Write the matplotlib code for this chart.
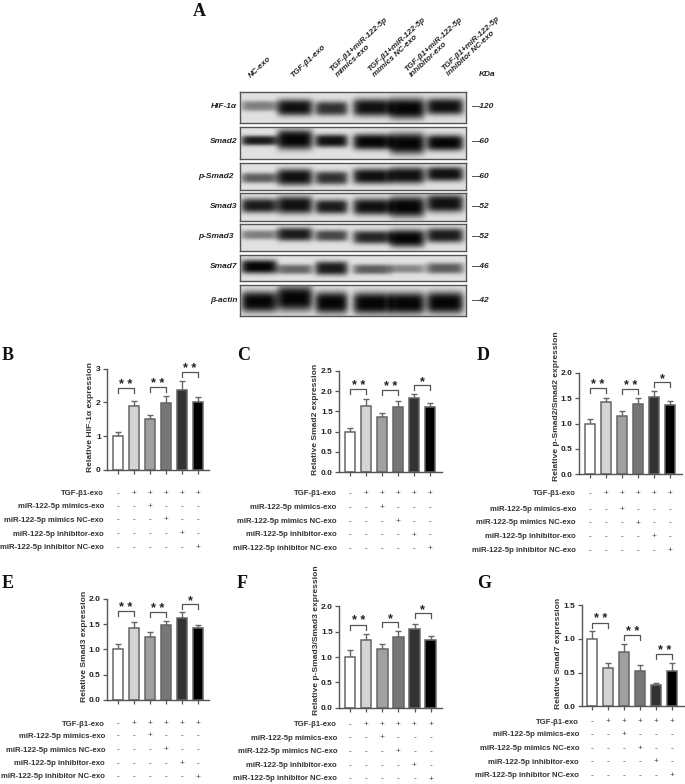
import numpy as np
import matplotlib
matplotlib.use('Agg')
import matplotlib.pyplot as plt
from matplotlib import transforms

plt.rcParams['font.family'] = ['Liberation Sans', 'DejaVu Sans']

W, H = 685, 784

# --- western blot: band centre (fraction of box), darkness, half thickness (px)
blot_rows = ['HIF-1α', 'Smad2', 'p-Smad2', 'Smad3', 'p-Smad3', 'Smad7', 'β-actin']
blot_kda = ['120', '60', '60', '52', '52', '46', '42']
blot_cols = ['NC-exo', 'TGF-β1-exo', 'TGF-β1+miR-122-5p\nmimics-exo',
             'TGF-β1+miR-122-5p\nmimics NC-exo', 'TGF-β1+miR-122-5p\ninhibitor-exo',
             'TGF-β1+miR-122-5p\ninhibitor NC-exo']
band_pos = [[.45, .50, .53, .50, .53, .47],
            [.44, .41, .45, .48, .53, .51],
            [.57, .54, .57, .51, .48, .43],
            [.45, .43, .49, .49, .49, .37],
            [.40, .38, .43, .49, .53, .42],
            [.45, .55, .51, .55, .53, .51],
            [.54, .43, .57, .59, .59, .57]]
band_dark = [[.45, .95, .80, .95, 1.0, .95],
             [.90, 1.0, .95, 1.0, 1.0, 1.0],
             [.60, .95, .80, .95, .95, .95],
             [.90, .95, .90, .95, 1.0, .95],
             [.45, .90, .70, .85, 1.0, .90],
             [1.0, .55, .90, .60, .40, .60],
             [1.0, 1.0, 1.0, 1.0, 1.0, 1.0]]
band_thick = [[5.0, 8.0, 7.0, 8.5, 10.0, 8.0],
              [5.0, 10.0, 6.5, 8.0, 10.5, 8.0],
              [5.0, 8.0, 6.5, 7.5, 8.0, 7.0],
              [7.0, 8.5, 7.0, 8.0, 10.0, 8.5],
              [4.5, 6.5, 5.5, 6.5, 8.5, 7.0],
              [7.0, 5.0, 7.0, 5.0, 4.5, 5.5],
              [10.5, 12.5, 11.0, 11.0, 11.0, 11.0]]
lane_x = [.085, .243, .405, .585, .74, .907]
lane_w = [.08, .08, .073, .086, .078, .083]

# --- bar panels
groups = ['NC', 'TGF', 'mimics', 'mimics NC', 'inhibitor', 'inhibitor NC']
bar_colors = ['white', '#d4d4d4', '#a0a0a0', '#777777', '#333333', '#000000']
row_labels = ['TGF-β1-exo', 'miR-122-5p mimics-exo', 'miR-122-5p mimics NC-exo',
              'miR-122-5p inhibitor-exo', 'miR-122-5p inhibitor NC-exo']
signs = [['-', '+', '+', '+', '+', '+'],
         ['-', '-', '+', '-', '-', '-'],
         ['-', '-', '-', '+', '-', '-'],
         ['-', '-', '-', '-', '+', '-'],
         ['-', '-', '-', '-', '-', '+']]

hif_vals = [1.0, 1.9, 1.5, 1.97, 2.37, 2.0]
hif_tops = [1.125, 2.05, 1.63, 2.18, 2.63, 2.17]
smad2_vals = [1.0, 1.62, 1.36, 1.6, 1.82, 1.6]
smad2_tops = [1.08, 1.795, 1.45, 1.746, 1.92, 1.70]
psmad2_vals = [1.0, 1.42, 1.15, 1.39, 1.53, 1.37]
psmad2_tops = [1.08, 1.51, 1.24, 1.51, 1.63, 1.44]
smad3_vals = [1.0, 1.43, 1.25, 1.48, 1.61, 1.43]
smad3_tops = [1.11, 1.54, 1.35, 1.55, 1.73, 1.49]
psmad3_vals = [1.0, 1.33, 1.16, 1.39, 1.56, 1.34]
psmad3_tops = [1.13, 1.45, 1.25, 1.52, 1.66, 1.41]
smad7_vals = [1.0, .57, .81, .53, .31, .53]
smad7_tops = [1.115, .645, .92, .605, .34, .636]

panels = [
    dict(letter='B', ylabel='Relative HIF-1α expression', vals=hif_vals, tops=hif_tops,
         ymax=3, ticks=[0, 1, 2, 3], fmt='%d', brk=[2.42, 2.46, 2.91], stars=['**', '**', '**'],
         box=(107.3, 368.7, 209, 470), c0=118, sp=16, lab=(91, 471.7), letter_xy=(1.5, 355.5),
         right=104, rows=[493.3, 506.7, 520, 534, 547.3]),
    dict(letter='C', ylabel='Relative Smad2 expression', vals=smad2_vals, tops=smad2_tops,
         ymax=2.5, ticks=[0, .5, 1, 1.5, 2, 2.5], fmt='%.1f', brk=[2.04, 2.02, 2.15], stars=['**', '**', '*'],
         box=(339.3, 370.7, 442, 472.3), c0=350.3, sp=16, lab=(315.7, 474.7), letter_xy=(237, 355.5),
         right=336.7, rows=[494, 507.7, 521.3, 535, 548.7]),
    dict(letter='D', ylabel='Relative p-Smad2/Smad2 expression', vals=psmad2_vals, tops=psmad2_tops,
         ymax=2, ticks=[0, .5, 1, 1.5, 2], fmt='%.1f', brk=[1.69, 1.67, 1.81], stars=['**', '**', '*'],
         box=(579, 372.7, 681.7, 474.3), c0=590, sp=16.05, lab=(556, 480.7), letter_xy=(477, 355.5),
         right=576, rows=[493.7, 509.7, 523, 536.7, 550.3]),
    dict(letter='E', ylabel='Relative Smad3 expression', vals=smad3_vals, tops=smad3_tops,
         ymax=2, ticks=[0, .5, 1, 1.5, 2], fmt='%.1f', brk=[1.75, 1.73, 1.89], stars=['**', '**', '*'],
         box=(106.7, 598.7, 209, 700), c0=118, sp=16, lab=(84, 702.3), letter_xy=(1.5, 583),
         right=105, rows=[724, 736, 750, 763.7, 777]),
    dict(letter='F', ylabel='Relative p-Smad3/Smad3 expression', vals=psmad3_vals, tops=psmad3_tops,
         ymax=2, ticks=[0, .5, 1, 1.5, 2], fmt='%.1f', brk=[1.64, 1.69, 1.86], stars=['**', '*', '*'],
         box=(339.3, 606.3, 442, 707.7), c0=350.3, sp=16.05, lab=(316.7, 715), letter_xy=(237, 583),
         right=337, rows=[724.7, 738, 751.7, 765.3, 779]),
    dict(letter='G', ylabel='Relative Smad7 expression', vals=smad7_vals, tops=smad7_tops,
         ymax=1.5, ticks=[0, .5, 1, 1.5], fmt='%.1f', brk=[1.24, 1.05, .77], stars=['**', '**', '**'],
         box=(581.7, 605, 683.7, 706.3), c0=592.3, sp=16, lab=(558, 709.3), letter_xy=(477, 583),
         right=579, rows=[722, 734.7, 748.3, 762, 775.3]),
]

# pixel layout of the blot
blot_boxes = [(92.3, 122.7), (126.7, 159.3), (162.7, 190), (193.3, 220.7),
              (224.3, 250.7), (255, 281), (285, 316)]
row_label_right = [237.3, 237.3, 233.3, 237.3, 233.3, 237.3, 237.3]
row_label_y = [106.7, 141.7, 176, 206, 236.7, 267, 300]
col_label_xy = [(250, 76.7), (291.7, 76.7), (334, 72.7), (371.5, 72.7), (408.5, 72.7), (445.7, 72.4)]

fig = plt.figure(figsize=(W / 100, H / 100), dpi=100, facecolor='white')


def px_axes(left, top, right, bottom):
    return fig.add_axes([left / W, 1 - bottom / H, (right - left) / W, (bottom - top) / H])


def fig_text(x, y, s, **kw):
    fig.text(x / W, 1 - y / H, s, **kw)


def draw_blot(i):
    top, bottom = blot_boxes[i]
    ax = px_axes(240, top, 466, bottom)
    nx, ny = 226, int(round(bottom - top))
    xx, yy = np.meshgrid((np.arange(nx) + .5) / nx, np.arange(ny) + .5)
    dark = np.zeros((ny, nx))
    for j in range(6):
        cy = band_pos[i][j] * ny
        dx = (xx - lane_x[j]) / lane_w[j]
        dy = (yy - cy) / band_thick[i][j]
        dark += band_dark[i][j] * np.exp(-dx ** 6 - np.abs(dy) ** 3)
    img = 0.88 - 0.86 * np.clip(dark, 0, 1)
    ax.imshow(img, cmap='gray', vmin=0, vmax=1, aspect='auto', interpolation='bilinear')
    ax.set_xticks([])
    ax.set_yticks([])
    for s in ax.spines.values():
        s.set_color('#555555')
        s.set_linewidth(1.0)
    fig_text(row_label_right[i], row_label_y[i], blot_rows[i], ha='right', va='center',
             fontsize=6, style='italic', weight='bold', color='#222222')
    fig_text(471.5, row_label_y[i], '—' + blot_kda[i], ha='left', va='center',
             fontsize=6, style='italic', weight='bold', color='#222222')


def draw_panel(p):
    ax = px_axes(*p['box'])
    left, top, right, bottom = p['box']
    x = np.arange(6)
    vals = np.array(p['vals'])
    err = np.array(p['tops']) - vals
    ax.bar(x, vals, width=0.64, color=bar_colors, edgecolor='#666666', linewidth=1.1, zorder=2)
    ax.errorbar(x, vals, yerr=[np.zeros(6), err], fmt='none', ecolor='#666666',
                elinewidth=1.0, capsize=2.1, capthick=1.0, zorder=1)
    ax.set_xlim((left - p['c0']) / p['sp'], (right - p['c0']) / p['sp'])
    ax.set_ylim(0, p['ymax'])
    ax.set_xticks(x)
    ax.set_xticklabels([])
    ax.set_yticks(p['ticks'])
    ax.set_yticklabels([p['fmt'] % t for t in p['ticks']], fontsize=6, weight='bold', color='#222222')
    ax.tick_params(axis='both', length=3.2, width=0.9, color='#555555', pad=1.5)
    for s in ['top', 'right']:
        ax.spines[s].set_visible(False)
    for s in ['left', 'bottom']:
        ax.spines[s].set_color('#555555')
        ax.spines[s].set_linewidth(1.0)
    ax.patch.set_alpha(0)

    # significance brackets, drop of 5 px converted to data units
    drop = 5 * p['ymax'] / (bottom - top)
    for k, (b, st) in enumerate(zip(p['brk'], p['stars'])):
        x0, x1 = 2 * k, 2 * k + 1
        ax.plot([x0, x0, x1, x1], [b - drop, b, b, b - drop], color='#555555', lw=0.9,
                clip_on=False, zorder=3)
        ax.annotate(st.replace('**', '* *'), xy=(k * 2 + .5, b), xytext=(0, -2),
                    textcoords='offset points', ha='center', va='bottom',
                    fontsize=9, weight='bold', color='#222222', annotation_clip=False)

    fig_text(p['lab'][0], p['lab'][1], p['ylabel'], rotation=90, ha='center', va='bottom',
             fontsize=6.1, weight='bold', color='#333333')
    fig_text(p['letter_xy'][0], p['letter_xy'][1], p['letter'], ha='left', va='center',
             fontsize=13, weight='bold', family='Liberation Serif', color='#111111')

    trans = transforms.blended_transform_factory(ax.transData, fig.transFigure)
    for r, lab in enumerate(row_labels):
        y = p['rows'][r]
        fig_text(p['right'], y, lab, ha='right', va='center', fontsize=5.6, weight='bold', color='#333333')
        for c in range(6):
            ax.text(c, 1 - y / H, signs[r][c], transform=trans, ha='center', va='center',
                    fontsize=6, color='#444444', clip_on=False)


for i in range(len(blot_rows)):
    draw_blot(i)

for (x, y), lab in zip(col_label_xy, blot_cols):
    fig.text(x / W, 1 - y / H, lab, rotation=43, rotation_mode='anchor', ha='left', va='center',
             multialignment='left', fontsize=5.8, style='italic', weight='bold',
             color='#222222', linespacing=1.1)

fig_text(479, 74, 'KDa', ha='left', va='center', fontsize=6, style='italic', weight='bold', color='#222222')
fig_text(192.5, 12, 'A', ha='left', va='center', fontsize=13, weight='bold',
         family='Liberation Serif', color='#111111')

for p in panels:
    draw_panel(p)

fig.savefig('out.png', dpi=100, facecolor='white')
